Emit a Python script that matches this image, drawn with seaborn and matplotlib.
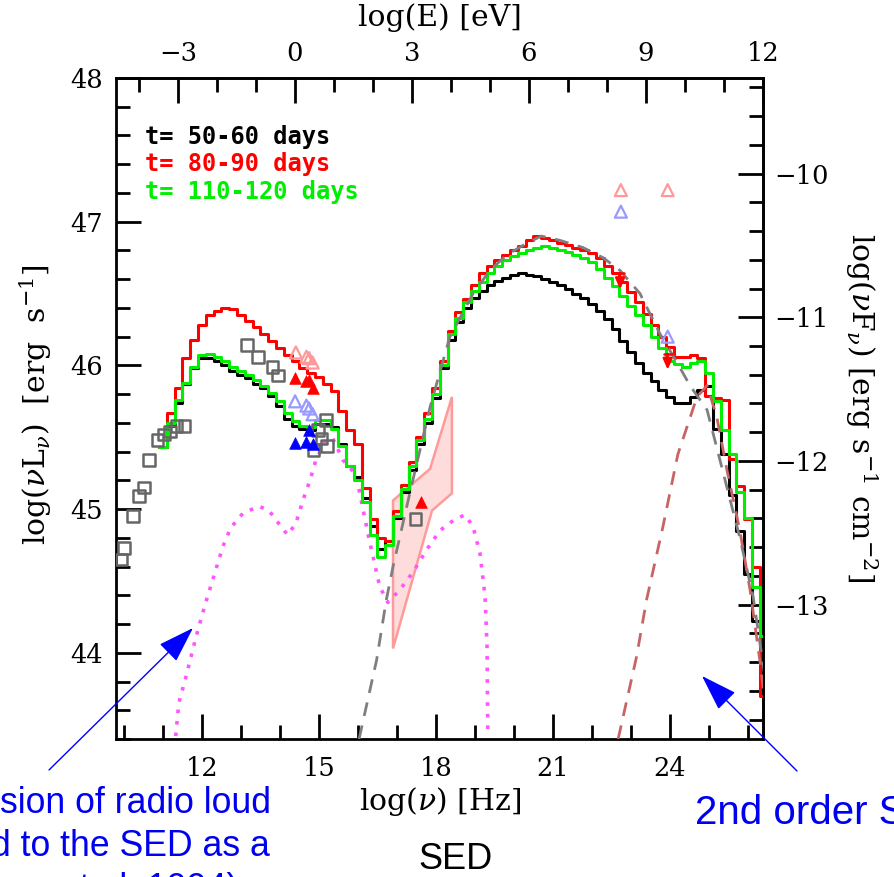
import numpy as np
import pandas as pd
import matplotlib
matplotlib.use("Agg")
import matplotlib.pyplot as plt
import seaborn as sns
from matplotlib.ticker import MultipleLocator, FixedLocator
from matplotlib.patches import Polygon

# ---------------- data ----------------
bin_start = 10.9      # first bin edge, log(nu)
bin_width = 0.2

sed_50_60 = [45.43,45.58,45.74,45.87,45.98,46.05,46.05,46.03,46.00,45.96,
             45.93,45.91,45.87,45.84,45.79,45.72,45.63,45.58,45.56,45.55,
             45.59,45.59,45.57,45.45,45.30,45.22,45.08,44.88,44.72,44.78,
             44.94,45.12,45.27,45.45,45.60,45.77,45.98,46.18,46.30,46.40,
             46.47,46.52,46.56,46.59,46.61,46.63,46.64,46.63,46.62,46.60,
             46.58,46.56,46.53,46.50,46.47,46.43,46.38,46.32,46.25,46.17,
             46.09,46.02,45.95,45.89,45.83,45.78,45.74,45.74,45.78,45.83,
             45.86,45.56,45.38,45.10,44.85,44.55,44.22,44.05]
sed_80_90 = [45.43,45.67,45.84,46.05,46.18,46.28,46.35,46.38,46.40,46.39,
             46.35,46.31,46.27,46.22,46.17,46.12,46.07,46.03,45.98,45.95,
             45.92,45.87,45.82,45.68,45.55,45.45,45.15,44.93,44.80,44.78,
             44.99,45.17,45.33,45.50,45.67,45.84,46.03,46.24,46.37,46.46,
             46.56,46.64,46.69,46.73,46.77,46.80,46.83,46.87,46.90,46.89,
             46.87,46.85,46.84,46.82,46.80,46.78,46.75,46.69,46.64,46.58,
             46.51,46.44,46.36,46.28,46.20,46.13,46.06,46.06,46.07,46.05,
             45.79,45.77,45.76,45.35,45.16,44.93,44.60,43.70]
sed_110_120 = [45.43,45.60,45.76,45.88,45.99,46.07,46.08,46.06,46.03,45.99,
               45.96,45.93,45.90,45.86,45.81,45.75,45.67,45.61,45.58,45.57,
               45.62,45.62,45.56,45.44,45.30,45.20,45.05,44.82,44.67,44.75,
               44.95,45.14,45.30,45.48,45.63,45.80,46.00,46.22,46.33,46.44,
               46.52,46.58,46.64,46.69,46.73,46.76,46.78,46.80,46.82,46.83,
               46.82,46.80,46.79,46.77,46.75,46.72,46.67,46.61,46.55,46.48,
               46.41,46.35,46.28,46.20,46.12,46.03,46.01,45.99,46.02,46.03,
               45.95,45.75,45.55,45.38,45.12,44.94,44.46,44.12]

# grey dashed component
ic_nu = [16.03,16.48,16.73,16.90,17.33,17.85,18.18,18.36,18.95,19.38,19.82,20.33,
         20.70,21.18,21.77,22.28,22.72,23.23,23.74,24.18,24.51,24.95,25.46,25.79,
         26.13,26.38,26.45]
ic_L = [43.40,43.95,44.37,44.60,45.11,45.71,46.03,46.20,46.50,46.66,46.77,46.85,
        46.90,46.87,46.82,46.75,46.66,46.50,46.22,46.02,45.86,45.69,45.15,44.80,
        44.39,43.93,43.80]
# second order component (brown dashed)
ssc2_nu = [22.67,23.14,23.40,23.82,24.20,24.69,24.95,25.20,25.46,25.79,26.05,26.31,26.45]
ssc2_L = [43.40,43.97,44.37,44.88,45.38,45.78,45.86,45.64,45.27,44.85,44.44,43.93,43.60]
# magenta dotted component
disk_nu = [11.33,11.41,11.59,11.85,12.10,12.36,12.54,12.74,13.05,13.46,13.72,13.97,
           14.20,14.41,14.59,14.72,14.85,14.92,15.18,15.36,15.62,15.95,16.28,16.56,
           16.77,17.08,17.41,17.77,18.10,18.44,18.74,18.95,19.13,19.26,19.31,19.33]
disk_L = [43.42,43.65,43.83,44.11,44.35,44.58,44.74,44.87,44.97,45.02,44.99,44.90,
          44.82,44.90,45.06,45.16,45.27,45.34,45.48,45.49,45.34,45.24,44.80,44.46,
          44.35,44.44,44.56,44.72,44.85,44.92,44.96,44.88,44.69,44.39,44.04,43.42]
# X-ray bow-tie
bowtie_nu = [16.90,17.85,18.41,18.41,17.90,16.90]
bowtie_L = [45.06,45.28,45.78,45.11,44.99,44.03]

# archival (grey open squares)
arch_nu = [9.94,10.01,10.24,10.39,10.52,10.65,10.86,11.03,11.18,11.35,11.56,
           13.15,13.44,13.81,13.96,14.86,14.97,15.07,15.18,15.21,17.48]
arch_L = [44.65,44.73,44.95,45.09,45.15,45.34,45.48,45.52,45.54,45.58,45.58,
          46.14,46.06,45.99,45.93,45.41,45.55,45.49,45.62,45.44,44.93]
# pink open triangles
pink_nu = [14.41,14.68,14.75,14.84,22.74,23.94]
pink_L = [46.09,46.06,46.05,46.02,47.22,47.22]
# light blue open triangles
lblue_nu = [14.39,14.68,14.75,14.84,22.74,23.94]
lblue_L = [45.75,45.72,45.70,45.66,47.07,46.20]
# red filled triangles
red_nu = [14.39,14.67,14.75,14.84,17.63]
red_L = [45.91,45.89,45.90,45.84,45.05]
# blue filled triangles
blue_nu = [14.39,14.67,14.75,14.85]
blue_L = [45.46,45.47,45.55,45.45]
# red upper limits
ul_nu = [22.72,23.94]
ul_L = [46.64,46.08]

log_h = 14.383        # log(E/eV) = log(nu) - log_h
log_4pid2 = 57.335    # log(nuF) = log(nuL) - log_4pid2

nu_ticks = [12, 15, 18, 21, 24]
E_ticks = [-3, 0, 3, 6, 9, 12]
L_ticks = [44, 45, 46, 47, 48]
F_ticks = [-13, -12, -11, -10]

legend_labels = ["t= 50-60 days", "t= 80-90 days", "t= 110-120 days"]

# ---------------- style ----------------
sns.set_theme(style="white")
plt.rcParams["font.family"] = ["DejaVu Serif"]
plt.rcParams["mathtext.fontset"] = "dejavuserif"

W, H = 894, 877
fig = plt.figure(figsize=(W / 100, H / 100), dpi=100)
L0, R0, T0, B0 = 116, 763, 78, 739
ax = fig.add_axes([L0 / W, 1 - B0 / H, (R0 - L0) / W, (B0 - T0) / H])
ax.set_facecolor("white")

# bow-tie
ax.add_patch(Polygon(np.column_stack([bowtie_nu, bowtie_L]), closed=True,
                     facecolor="#ffdcdc", edgecolor="#ff9a9a", lw=1.8, zorder=1))

# dotted component
sns.lineplot(x=disk_nu, y=disk_L, ax=ax, color="#ff55ff", lw=2.6,
             linestyle=(0, (1, 2.2)), sort=False, estimator=None, zorder=2)

# step SEDs
edges = bin_start + bin_width * np.arange(len(sed_50_60) + 1)
for vals, col in [(sed_50_60, "black"), (sed_80_90, "#ff0000"), (sed_110_120, "#00ee00")]:
    yy = list(vals) + [vals[-1]]
    sns.lineplot(x=edges, y=yy, ax=ax, color=col, lw=2.2, drawstyle="steps-post",
                 sort=False, estimator=None, zorder=3)

# dashed components
sns.lineplot(x=ic_nu, y=ic_L, ax=ax, color="#7f7f7f", lw=2.0,
             linestyle=(0, (5, 3.5)), sort=False, estimator=None, zorder=4)
sns.lineplot(x=ssc2_nu, y=ssc2_L, ax=ax, color="#c86464", lw=2.0,
             linestyle=(0, (5, 3.5)), sort=False, estimator=None, zorder=4)

# data points
sns.scatterplot(x=arch_nu, y=arch_L, ax=ax, marker="s", s=70, facecolor="none",
                edgecolor="#666666", linewidth=1.8, zorder=5)
sns.scatterplot(x=pink_nu, y=pink_L, ax=ax, marker="^", s=75, facecolor="none",
                edgecolor="#ff9999", linewidth=1.6, zorder=5)
sns.scatterplot(x=lblue_nu, y=lblue_L, ax=ax, marker="^", s=75, facecolor="none",
                edgecolor="#9999ff", linewidth=1.6, zorder=5)
sns.scatterplot(x=red_nu, y=red_L, ax=ax, marker="^", s=70, color="#ff0000",
                edgecolor="#ff0000", linewidth=0.5, zorder=5)
sns.scatterplot(x=blue_nu, y=blue_L, ax=ax, marker="^", s=70, color="#0000ff",
                edgecolor="#0000ff", linewidth=0.5, zorder=5)
for xn, yl in zip(ul_nu, ul_L):
    ax.annotate("", xy=(xn, yl - 0.11), xytext=(xn, yl),
                arrowprops=dict(arrowstyle="-|>,head_length=0.45,head_width=0.2",
                                color="#ff0000", lw=1.8, mutation_scale=14,
                                shrinkA=0, shrinkB=0), zorder=6)
    ax.plot([xn - 0.1, xn + 0.1], [yl, yl], color="#ff0000", lw=1.8, zorder=6)

# ---------------- axes ----------------
ax.set_xlim(9.8, 26.383)
ax.set_ylim(43.4, 48.0)
for sp in ax.spines.values():
    sp.set_linewidth(2)
    sp.set_color("black")
ax.xaxis.set_major_locator(FixedLocator(nu_ticks))
ax.xaxis.set_minor_locator(MultipleLocator(1))
ax.yaxis.set_major_locator(FixedLocator(L_ticks))
ax.yaxis.set_minor_locator(MultipleLocator(0.2))
ax.tick_params(which="both", direction="in", width=2, color="black",
               labelsize=18.5, labelcolor="black", bottom=True, left=True,
               top=False, right=False)
ax.tick_params(which="major", length=18)
ax.tick_params(which="minor", length=10)
ax.tick_params(axis="x", pad=12)
ax.tick_params(axis="y", pad=9.5)
ax.set_xlabel("")
ax.set_ylabel("")

secx = ax.secondary_xaxis("top", functions=(lambda x: x - log_h, lambda e: e + log_h))
secx.xaxis.set_major_locator(FixedLocator(E_ticks))
secx.xaxis.set_minor_locator(MultipleLocator(1))
secx.tick_params(which="both", direction="in", width=2, color="black",
                 labelsize=18.5, labelcolor="black", pad=8.5)
secx.tick_params(which="major", length=18)
secx.tick_params(which="minor", length=10)
secx.spines["top"].set_linewidth(2)

secy = ax.secondary_yaxis("right", functions=(lambda y: y - log_4pid2, lambda f: f + log_4pid2))
secy.yaxis.set_major_locator(FixedLocator(F_ticks))
secy.yaxis.set_minor_locator(MultipleLocator(0.2))
secy.tick_params(which="both", direction="in", width=2, color="black",
                 labelsize=18.5, labelcolor="black", pad=8)
secy.tick_params(which="major", length=18)
secy.tick_params(which="minor", length=10)
secy.spines["right"].set_linewidth(2)

lab_kw = dict(fontsize=21.5, color="black")
fig.text(440 / W, 1 - 18 / H, "log(E) [eV]", ha="center", va="center", **lab_kw)
fig.text(440 / W, 1 - 801 / H, r"log($\nu$) [Hz]", ha="center", va="center", **lab_kw)
fig.text(36 / W, 1 - 405 / H, r"log($\nu$L$_\nu$)  [erg  s$^{-1}$]", rotation=90,
         ha="center", va="center", **lab_kw)
fig.text(861 / W, 1 - 408 / H, r"log($\nu$F$_\nu$) [erg s$^{-1}$ cm$^{-2}$]", rotation=-90,
         ha="center", va="center", **lab_kw)

# legend-like labels
for lab, col, yp in zip(legend_labels, ["black", "#ff0000", "#00ee00"], [137, 164, 192]):
    fig.text(145 / W, 1 - yp / H, lab, color=col, fontsize=17, fontweight="bold",
             family="DejaVu Sans Mono", ha="left", va="center")

# ---------------- slide annotations ----------------
blue = "#0000f0"
sk = dict(family=["Liberation Sans", "DejaVu Sans"], color=blue, fontsize=25.7)
fig.text(0 / W, 1 - 813 / H, "sion of radio loud", ha="left", va="baseline", **sk)
fig.text(-9 / W, 1 - 856 / H, "d to the SED as a", ha="left", va="baseline", **sk)
fig.text(60 / W, 1 - 899 / H, "et al. 1994)", ha="left", va="baseline", **sk)
fig.text(456 / W, 1 - 869 / H, "SED", ha="center", va="baseline",
         family=["Liberation Sans", "DejaVu Sans"], color="black", fontsize=26)
fig.text(695 / W, 1 - 824 / H, "2nd order SSC", ha="left", va="baseline",
         family=["Liberation Sans", "DejaVu Sans"], color=blue, fontsize=29)

arrow_kw = dict(arrowstyle="-|>,head_length=1.15,head_width=0.38", color="#0000ff",
                lw=1.0, mutation_scale=20, shrinkA=0, shrinkB=0)
ax.annotate("", xy=(193, H - 628), xycoords="figure pixels",
            xytext=(49, H - 770), textcoords="figure pixels",
            arrowprops=arrow_kw, annotation_clip=False, zorder=10)
ax.annotate("", xy=(702, H - 676), xycoords="figure pixels",
            xytext=(797, H - 771), textcoords="figure pixels",
            arrowprops=arrow_kw, annotation_clip=False, zorder=10)

fig.savefig("out.png", dpi=100)
